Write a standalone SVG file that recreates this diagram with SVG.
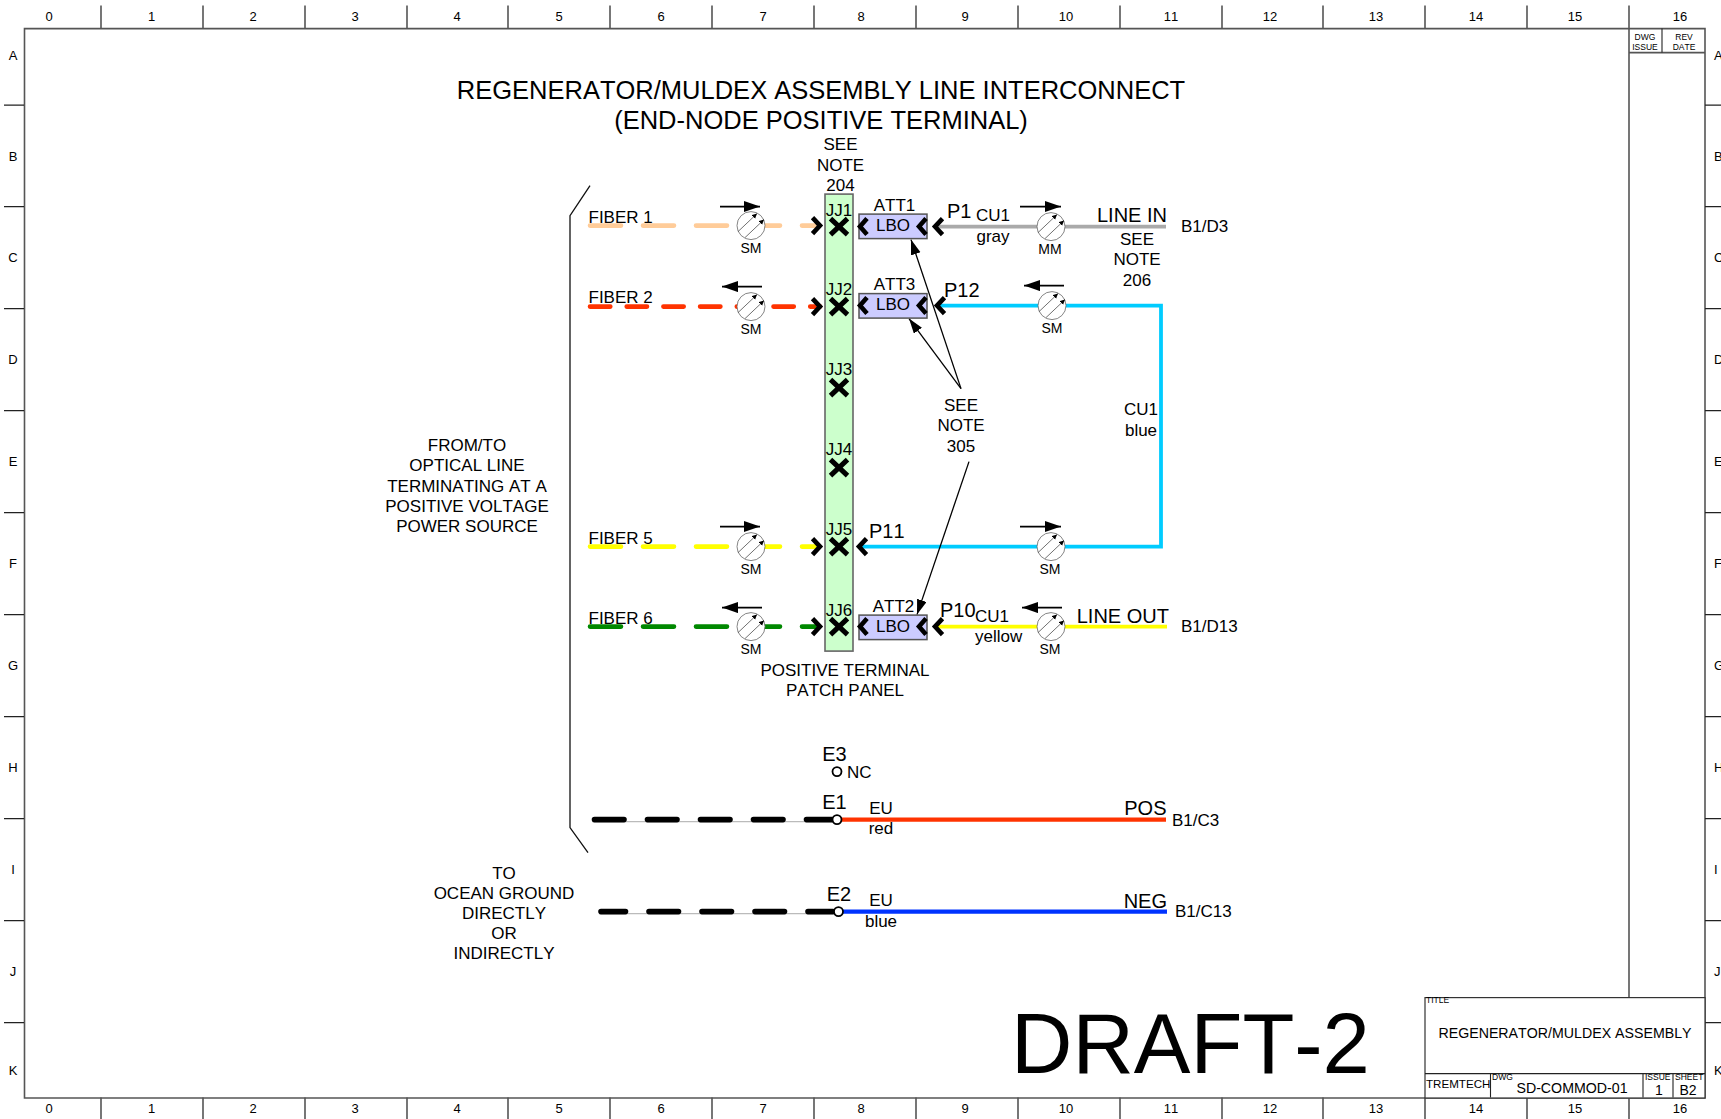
<svg xmlns="http://www.w3.org/2000/svg" xmlns:xlink="http://www.w3.org/1999/xlink" width="1721" height="1119" viewBox="0 0 1721 1119">
<style>
text{font-family:"Liberation Sans",Arial,sans-serif;fill:#000;font-size:17px;font-kerning:none;transform:translateY(-0.8px)}
.m{text-anchor:middle}.e{text-anchor:end}
.b{font-size:20px}.s{font-size:14px}.f{font-size:13px}.t{font-size:8.5px}
.fr{fill:none;stroke:#555;stroke-width:1.6}.tk{fill:none;stroke:#222;stroke-width:1.1}
.w{fill:none;stroke-width:3.8}.d{fill:none;stroke-width:4.6;stroke-linecap:round}
.ch{fill:none;stroke:#000;stroke-width:4.6}
.x{fill:none;stroke:#000;stroke-width:5}
.lbo{fill:#ccccff;stroke:#555;stroke-width:1.5}
.ld{fill:none;stroke:#000;stroke-width:1.3}
.dir{fill:none;stroke:#000;stroke-width:1.7}
.term{fill:#fff;stroke:#000;stroke-width:1.8}
</style>
<defs>
<marker id="ah" markerUnits="userSpaceOnUse" markerWidth="17" markerHeight="12" refX="16" refY="5.500" orient="auto"><path d="M0 0L16 5.500L0 11z" fill="#000"/></marker>
<marker id="dh" markerUnits="userSpaceOnUse" markerWidth="16" markerHeight="12" refX="15" refY="5" orient="auto"><path d="M0 0L15 5L0 10z" fill="#000"/></marker>
<marker id="mh" markerUnits="userSpaceOnUse" markerWidth="6" markerHeight="6" refX="5" refY="2.5" orient="auto"><path d="M0 0L5 2.5L0 5z" fill="#000"/></marker>
<g id="meter">
<circle r="14" fill="#fff" stroke="#666" stroke-width="0.8"/>
<path d="M-13 6L6 -12" fill="none" stroke="#333" stroke-width="0.7" marker-end="url(#mh)"/>
<path d="M-6 12L13 -6" fill="none" stroke="#333" stroke-width="0.7" marker-end="url(#mh)"/>
</g>
</defs>
<g transform="translate(0 0.6)">
<g id="frame">
<path class="fr" d="M24.5 28H1705V1097.400H24.5Z"/>
<path class="fr" d="M101 5V28M203 5V28M305 5V28M407 5V28M508 5V28M610 5V28M712 5V28M814 5V28M916 5V28M1018 5V28M1120 5V28M1222 5V28M1323 5V28M1425 5V28M1527 5V28M1629 5V28"/>
<path class="fr" d="M101 1097V1119M203 1097V1119M305 1097V1119M407 1097V1119M508 1097V1119M610 1097V1119M712 1097V1119M814 1097V1119M916 1097V1119M1018 1097V1119M1120 1097V1119M1222 1097V1119M1323 1097V1119M1425 1097V1119M1527 1097V1119M1629 1097V1119"/>
<path class="tk" d="M4 104.5H24M4 206H24M4 308H24M4 410H24M4 512H24M4 614H24M4 716H24M4 818H24M4 920H24M4 1022H24"/>
<path class="tk" d="M1705 104.5H1721M1705 206H1721M1705 308H1721M1705 410H1721M1705 512H1721M1705 614H1721M1705 716H1721M1705 818H1721M1705 920H1721M1705 1022H1721"/>
<path class="fr" d="M1629 28V997M1629 52H1705"/><path class="tk" d="M1662 28V52"/>
<g class="f">
<text class="m f" x="49" y="21">0</text><text class="m f" x="151.500" y="21">1</text><text class="m f" x="253" y="21">2</text><text class="m f" x="355" y="21">3</text><text class="m f" x="457" y="21">4</text><text class="m f" x="559" y="21">5</text><text class="m f" x="661" y="21">6</text><text class="m f" x="763" y="21">7</text><text class="m f" x="861" y="21">8</text><text class="m f" x="965" y="21">9</text><text class="m f" x="1066" y="21">10</text><text class="m f" x="1171" y="21">11</text><text class="m f" x="1270" y="21">12</text><text class="m f" x="1376" y="21">13</text><text class="m f" x="1476" y="21">14</text><text class="m f" x="1575" y="21">15</text><text class="m f" x="1680" y="21">16</text>
<text class="m f" x="49" y="1113">0</text><text class="m f" x="151.500" y="1113">1</text><text class="m f" x="253" y="1113">2</text><text class="m f" x="355" y="1113">3</text><text class="m f" x="457" y="1113">4</text><text class="m f" x="559" y="1113">5</text><text class="m f" x="661" y="1113">6</text><text class="m f" x="763" y="1113">7</text><text class="m f" x="861" y="1113">8</text><text class="m f" x="965" y="1113">9</text><text class="m f" x="1066" y="1113">10</text><text class="m f" x="1171" y="1113">11</text><text class="m f" x="1270" y="1113">12</text><text class="m f" x="1376" y="1113">13</text><text class="m f" x="1476" y="1113">14</text><text class="m f" x="1575" y="1113">15</text><text class="m f" x="1680" y="1113">16</text>
<text class="m f" x="13" y="60">A</text><text class="m f" x="13" y="161">B</text><text class="m f" x="13" y="262">C</text><text class="m f" x="13" y="364">D</text><text class="m f" x="13" y="466">E</text><text class="m f" x="13" y="568">F</text><text class="m f" x="13" y="670">G</text><text class="m f" x="13" y="772">H</text><text class="m f" x="13" y="874">I</text><text class="m f" x="13" y="976">J</text><text class="m f" x="13" y="1075">K</text>
<text class="f" x="1714" y="60">A</text><text class="f" x="1714" y="161">B</text><text class="f" x="1714" y="262">C</text><text class="f" x="1714" y="364">D</text><text class="f" x="1714" y="466">E</text><text class="f" x="1714" y="568">F</text><text class="f" x="1714" y="670">G</text><text class="f" x="1714" y="772">H</text><text class="f" x="1714" y="874">I</text><text class="f" x="1714" y="976">J</text><text class="f" x="1714" y="1075">K</text>
</g>
<text class="m t" x="1645" y="40">DWG</text><text class="m t" x="1645" y="50">ISSUE</text><text class="m t" x="1684" y="40">REV</text><text class="m t" x="1684" y="50">DATE</text>
</g>
<g id="title-block">
<rect x="1425" y="997" width="280" height="100.400" fill="#fff" stroke="#333" stroke-width="1.2"/>
<path class="tk" d="M1425 1073H1705M1490.500 1073V1097M1643 1073V1097M1673 1073V1097"/>
<text class="t" x="1426" y="1003">TITLE</text>
<text class="m" style="font-size:14.200px" x="1565" y="1038">REGENERATOR/MULDEX ASSEMBLY</text>
<text style="font-size:11.600px" x="1426" y="1088">TREMTECH</text>
<text class="t" x="1492" y="1080">DWG</text>
<text class="m" style="font-size:14.200px" x="1572" y="1093">SD-COMMOD-01</text>
<text class="t" x="1645" y="1080">ISSUE</text><text class="m s" x="1659" y="1095">1</text>
<text class="t" x="1675" y="1080">SHEET</text><text class="m s" x="1688" y="1095">B2</text>
</g>
<text class="m" style="font-size:25.500px" x="821" y="99">REGENERATOR/MULDEX ASSEMBLY LINE INTERCONNECT</text>
<text class="m" style="font-size:25.500px" x="821" y="129">(END-NODE POSITIVE TERMINAL)</text>
<text style="font-size:85px" x="1011" y="1073">DRAFT-2</text>
<g id="bracket"><path fill="none" stroke="#111" stroke-width="1.3" d="M590 185L570 215V827L588 852"/></g>
<text class="m" x="467" y="451">FROM/TO</text><text class="m" x="467" y="471">OPTICAL LINE</text><text class="m" x="467" y="492">TERMINATING AT A</text><text class="m" x="467" y="512">POSITIVE VOLTAGE</text><text class="m" x="467" y="532">POWER SOURCE</text>
<text class="m" x="504" y="879">TO</text><text class="m" x="504" y="899">OCEAN GROUND</text><text class="m" x="504" y="919">DIRECTLY</text><text class="m" x="504" y="939">OR</text><text class="m" x="504" y="959">INDIRECTLY</text>
<g id="connectors">
<path class="d" stroke="#ffcc99" stroke-dasharray="31 22" d="M590 225H816"/>
<path class="d" stroke="#ff3300" stroke-dasharray="20.300 16.400" d="M590 306H820"/>
<path class="d" stroke="#ffff00" stroke-dasharray="31 22" d="M590 546H816"/>
<path class="d" stroke="#008800" stroke-dasharray="31 22" d="M590 626H816"/>
<path class="w" stroke="#aaaaaa" d="M936 226H1166"/>
<path class="w" stroke="#00ccff" d="M938 305H1161V546H861"/>
<path class="w" stroke="#ffff00" d="M936 626H1167"/>
<path fill="none" stroke="#bbb" stroke-width="1.2" d="M592 821H832M599 913H833"/>
<path fill="none" stroke="#000" stroke-width="5.600" stroke-linecap="round" stroke-dasharray="29.500 23.500" d="M594.500 819H832"/>
<path fill="none" stroke="#000" stroke-width="5.600" stroke-linecap="round" stroke-dasharray="29.500 23.500" stroke-dashoffset="5" d="M601 911H833"/>
<path fill="none" stroke="#ff3300" stroke-width="4.400" d="M840 819H1166"/>
<path fill="none" stroke="#0033ff" stroke-width="4.400" d="M842 911H1167"/>
<path class="ld" marker-end="url(#dh)" d="M961 388L911 239"/>
<path class="ld" marker-end="url(#dh)" d="M961 388L909 318"/>
<path class="ld" marker-end="url(#dh)" d="M969 461L917 614"/>
<path class="ch" d="M812.500 217L820 225L812.500 233M812.500 298L820 306L812.500 314M812.500 538L820 546L812.500 554M812.500 618L820 626L812.500 634"/>
<path class="ch" d="M942.500 218L935 226L942.500 234M944.500 297L937 305L944.500 313M866.500 538L859 546L866.500 554M942.500 618L935 626L942.500 634"/>
</g>
<g id="patch-panel">
<rect x="825" y="193.500" width="28" height="457" fill="#ccffcc" stroke="#666" stroke-width="1.6"/>
<text class="m" x="840.500" y="150">SEE</text><text class="m" x="840.500" y="171">NOTE</text><text class="m" x="840.500" y="191">204</text>
<text class="m" x="845" y="676">POSITIVE TERMINAL</text><text class="m" x="845" y="696.500">PATCH PANEL</text>
</g>
<g id="jj1"><path class="x" d="M830.500 218L847.500 234M847.500 218L830.500 234"/><text class="m" x="839" y="216">JJ1</text></g>
<g id="jj2"><path class="x" d="M830.500 298L847.500 314M847.500 298L830.500 314"/><text class="m" x="839" y="295">JJ2</text></g>
<g id="jj3"><path class="x" d="M830.500 379L847.500 395M847.500 379L830.500 395"/><text class="m" x="839" y="375">JJ3</text></g>
<g id="jj4"><path class="x" d="M830.500 459L847.500 475M847.500 459L830.500 475"/><text class="m" x="839" y="455">JJ4</text></g>
<g id="jj5"><path class="x" d="M830.500 538L847.500 554M847.500 538L830.500 554"/><text class="m" x="839" y="535">JJ5</text></g>
<g id="jj6"><path class="x" d="M830.500 618L847.500 634M847.500 618L830.500 634"/><text class="m" x="839" y="616">JJ6</text></g>
<g id="att1"><rect class="lbo" x="859" y="213.500" width="68" height="24.500"/><path class="ch" d="M867 218L860 226L867 234M926 218L919 226L926 234"/><text class="m" x="893" y="231">LBO</text><text class="m" x="894.500" y="211">ATT1</text></g>
<g id="att3"><rect class="lbo" x="859" y="293" width="68" height="24.500"/><path class="ch" d="M867 297L860 305L867 313M926 297L919 305L926 313"/><text class="m" x="893" y="310">LBO</text><text class="m" x="894.500" y="290">ATT3</text></g>
<g id="att2"><rect class="lbo" x="859" y="614.500" width="68" height="24.500"/><path class="ch" d="M867 618L860 626L867 634M926 618L919 626L926 634"/><text class="m" x="893" y="632">LBO</text><text class="m" x="893.500" y="612">ATT2</text></g>
<g id="meter-1l"><use xlink:href="#meter" href="#meter" x="751" y="225"/><path class="dir" marker-end="url(#ah)" d="M720 206H760"/><text class="m s" x="751" y="253">SM</text></g>
<g id="meter-2l"><use xlink:href="#meter" href="#meter" x="751" y="306"/><path class="dir" marker-end="url(#ah)" d="M762 286H722"/><text class="m s" x="751" y="334">SM</text></g>
<g id="meter-5l"><use xlink:href="#meter" href="#meter" x="751" y="546"/><path class="dir" marker-end="url(#ah)" d="M720 526H760"/><text class="m s" x="751" y="574">SM</text></g>
<g id="meter-6l"><use xlink:href="#meter" href="#meter" x="751" y="626"/><path class="dir" marker-end="url(#ah)" d="M762 607H722"/><text class="m s" x="751" y="654">SM</text></g>
<g id="meter-1r"><use xlink:href="#meter" href="#meter" x="1051" y="226"/><path class="dir" marker-end="url(#ah)" d="M1020 206H1061"/><text class="m s" x="1050" y="254">MM</text></g>
<g id="meter-2r"><use xlink:href="#meter" href="#meter" x="1052" y="305"/><path class="dir" marker-end="url(#ah)" d="M1064 285H1024"/><text class="m s" x="1052" y="333">SM</text></g>
<g id="meter-5r"><use xlink:href="#meter" href="#meter" x="1051" y="546"/><path class="dir" marker-end="url(#ah)" d="M1020 526H1061"/><text class="m s" x="1050" y="574">SM</text></g>
<g id="meter-6r"><use xlink:href="#meter" href="#meter" x="1051" y="626"/><path class="dir" marker-end="url(#ah)" d="M1062 607H1022"/><text class="m s" x="1050" y="654">SM</text></g>
<g id="labels">
<text x="588.500" y="223">FIBER 1</text><text x="588.500" y="303">FIBER 2</text><text x="588.500" y="544">FIBER 5</text><text x="588.500" y="624">FIBER 6</text>
<text class="b" x="947" y="218">P1</text><text class="b" x="944" y="297">P12</text><text class="b" x="869" y="538">P11</text><text class="b" x="940" y="617">P10</text>
<text class="m" x="993" y="221">CU1</text><text class="m" x="993" y="242">gray</text>
<text class="b e" x="1167" y="222">LINE IN</text>
<text class="m" x="1137" y="245">SEE</text><text class="m" x="1137" y="265">NOTE</text><text class="m" x="1137" y="286">206</text>
<text x="1181" y="232">B1/D3</text>
<text class="m" x="1141" y="415">CU1</text><text class="m" x="1141" y="436">blue</text>
<text class="m" x="961" y="411">SEE</text><text class="m" x="961" y="431">NOTE</text><text class="m" x="961" y="452">305</text>
<text x="975" y="622">CU1</text><text x="975" y="642">yellow</text>
<text class="b e" x="1169" y="623">LINE OUT</text><text x="1181" y="632">B1/D13</text>
</g>
<g id="e3"><circle class="term" cx="837" cy="771" r="4.500"/><text class="m b" x="834.500" y="761">E3</text><text x="847" y="778">NC</text></g>
<g id="e1"><circle class="term" cx="837" cy="819" r="4.500"/><text class="m b" x="834.500" y="809">E1</text><text class="m" x="881" y="814">EU</text><text class="m" x="881" y="834">red</text><text class="b e" x="1166.500" y="815">POS</text><text x="1172" y="826">B1/C3</text></g>
<g id="e2"><circle class="term" cx="838.500" cy="911" r="4.500"/><text class="m b" x="839" y="901">E2</text><text class="m" x="881" y="906">EU</text><text class="m" x="881" y="927">blue</text><text class="b e" x="1167" y="908">NEG</text><text x="1175" y="917">B1/C13</text></g>
</g>
</svg>
